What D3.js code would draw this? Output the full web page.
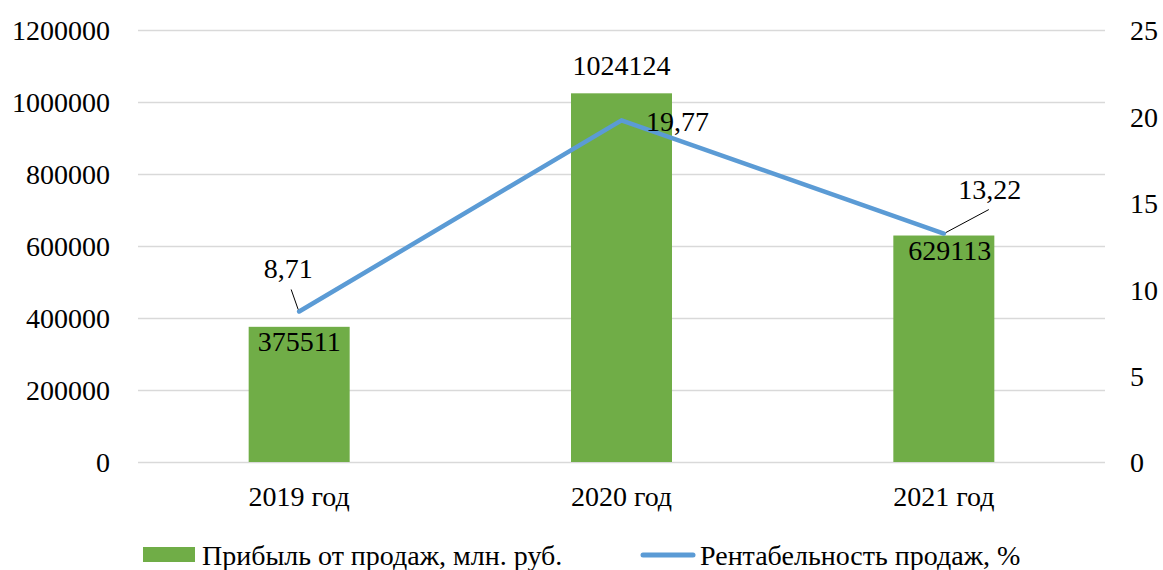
<!DOCTYPE html>
<html>
<head>
<meta charset="utf-8">
<script src="https://cdn.jsdelivr.net/npm/d3@7"></script>
<style>
  body { margin: 0; background: #fff; }
</style>
</head>
<body>
<svg id="canvas" width="1163" height="570"></svg>
<script>
let years = ['2019 год', '2020 год', '2021 год']
let profit = [375511, 1024124, 629113]
let margin = [8.71, 19.77, 13.22]
let leftTicks = [0, 200000, 400000, 600000, 800000, 1000000, 1200000]
let rightTicks = [0, 5, 10, 15, 20, 25]
let profitName = 'Прибыль от продаж, млн. руб.'
let marginName = 'Рентабельность продаж, %'

let canvas = d3.select('#canvas')
let fs = 28
let ff = 'Times New Roman, Liberation Serif, DejaVu Serif, serif'

let x = d3.scaleBand().domain(years).range([138, 1105]).paddingInner(0).paddingOuter(0)
let yL = d3.scaleLinear().domain([0, 1200000]).range([462, 30])
let yR = d3.scaleLinear().domain([0, 25]).range([462, 30])
let barW = 101
let cx = (d) => x(d) + x.bandwidth() / 2

// gridlines
canvas.append('g')
    .selectAll('line')
    .data(leftTicks)
    .enter()
    .append('line')
    .attr('x1', 138).attr('x2', 1105)
    .attr('y1', (d) => Math.round(yL(d)) + 0.5)
    .attr('y2', (d) => Math.round(yL(d)) + 0.5)
    .attr('stroke', '#d9d9d9')
    .attr('stroke-width', 1.5)

let styleAxis = (g, dy) => {
    g.attr('font-family', ff).attr('font-size', fs)
    g.select('.domain').remove()
    g.selectAll('text').attr('fill', '#000').attr('dy', dy)
}

// left axis labels
let leftAxis = d3.axisLeft(yL).tickValues(leftTicks).tickSize(0).tickPadding(0).tickFormat(d3.format('d'))
canvas.append('g')
    .attr('transform', 'translate(110,0)')
    .call(leftAxis)
    .call(styleAxis, '0.35em')

// right axis labels
let rightAxis = d3.axisRight(yR).tickValues(rightTicks).tickSize(0).tickPadding(0)
canvas.append('g')
    .attr('transform', 'translate(1130,0)')
    .call(rightAxis)
    .call(styleAxis, '0.35em')

// bottom category labels
let bottomAxis = d3.axisBottom(x).tickSize(0).tickPadding(0)
canvas.append('g')
    .attr('transform', 'translate(0,486)')
    .call(bottomAxis)
    .call(styleAxis, '0.71em')

// bars
canvas.append('g')
    .selectAll('rect')
    .data(profit)
    .enter()
    .append('rect')
    .attr('x', (d, i) => cx(years[i]) - barW / 2)
    .attr('y', (d) => yL(d))
    .attr('width', barW)
    .attr('height', (d) => yL(0) - yL(d))
    .attr('fill', '#70ad47')

// line
let line = d3.line()
    .x((d, i) => cx(years[i]))
    .y((d) => yR(d))
canvas.append('path')
    .datum(margin)
    .attr('d', line)
    .attr('fill', 'none')
    .attr('stroke', '#5b9bd5')
    .attr('stroke-width', 4.5)
    .attr('stroke-linecap', 'round')
    .attr('stroke-linejoin', 'round')

// bar labels: inside end, except the tall one which sits above
canvas.append('g')
    .attr('font-family', ff).attr('font-size', fs)
    .selectAll('text')
    .data(profit)
    .enter()
    .append('text')
    .text((d) => d)
    .attr('x', (d, i) => cx(years[i]) + (i === 2 ? 6 : 0))
    .attr('y', (d, i) => i === 1 ? yL(d) - 18 : yL(d) + 24)
    .attr('text-anchor', 'middle')

// line labels
let lblDx = [-11, 56, 46]
let lblDy = [-33, 11, -35]
canvas.append('g')
    .attr('font-family', ff).attr('font-size', fs)
    .selectAll('text')
    .data(margin)
    .enter()
    .append('text')
    .text((d) => d.toFixed(2).replace('.', ','))
    .attr('x', (d, i) => cx(years[i]) + lblDx[i])
    .attr('y', (d, i) => yR(d) + lblDy[i])
    .attr('text-anchor', 'middle')

// leader lines
let p0 = [cx(years[0]), yR(margin[0])]
let p2 = [cx(years[2]), yR(margin[2])]
canvas.append('line')
    .attr('x1', p0[0] - 8).attr('y1', p0[1] - 22)
    .attr('x2', p0[0] - 1).attr('y2', p0[1] - 2)
    .attr('stroke', '#000').attr('stroke-width', 1)
canvas.append('line')
    .attr('x1', p2[0] + 45).attr('y1', p2[1] - 24)
    .attr('x2', p2[0] + 2).attr('y2', p2[1] - 1)
    .attr('stroke', '#000').attr('stroke-width', 1)

// legend
let legend = canvas.append('g').attr('font-family', ff).attr('font-size', fs)
legend.append('rect')
    .attr('x', 143).attr('y', 547)
    .attr('width', 52).attr('height', 15)
    .attr('fill', '#70ad47')
legend.append('text')
    .text(profitName)
    .attr('x', 202).attr('y', 565)
legend.append('line')
    .attr('x1', 643).attr('x2', 693)
    .attr('y1', 555).attr('y2', 555)
    .attr('stroke', '#5b9bd5')
    .attr('stroke-width', 5)
    .attr('stroke-linecap', 'round')
legend.append('text')
    .text(marginName)
    .attr('x', 700).attr('y', 565)
</script>
</body>
</html>
